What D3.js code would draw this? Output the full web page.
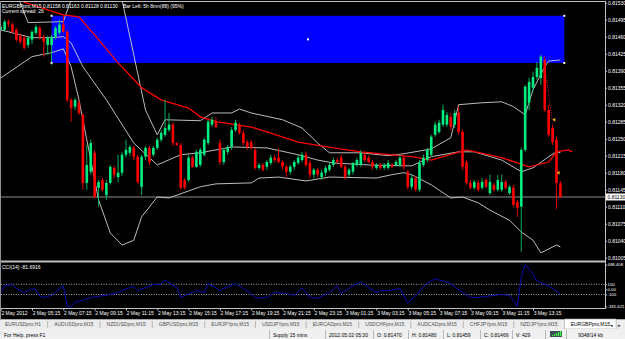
<!DOCTYPE html>
<html>
<head>
<meta charset="utf-8">
<script src="https://cdnjs.cloudflare.com/ajax/libs/d3/7.8.5/d3.min.js"></script>
<style>
html, body { margin: 0; padding: 0; background: #f0f0f0; overflow: hidden; }
svg { display: block; }
text { font-family: "Liberation Sans", Arial, sans-serif; }
</style>
</head>
<body>
<div id="chart"></div>
<script>
// EURGBPpro,M15 - bars from 2 May 03:15
var opens = [0.81474,0.81474,0.81491,0.81485,0.81474,0.81462,0.81458,0.81443,0.81454,0.81468,
0.81478,0.81460,0.81443,0.81443,0.81460,0.81468,0.81485,0.81470,0.81330,0.81316,
0.81324,0.81299,0.81159,0.81182,0.81221,0.81149,0.81165,0.81134,0.81159,0.81190,
0.81171,0.81180,0.81217,0.81221,0.81231,0.81213,0.81151,0.81213,0.81231,0.81217,
0.81231,0.81248,0.81258,0.81268,0.81279,0.81241,0.81237,0.81165,0.81165,0.81211,
0.81192,0.81196,0.81217,0.81241,0.81279,0.81285,0.81241,0.81202,0.81223,0.81233,
0.81268,0.81279,0.81262,0.81243,0.81243,0.81227,0.81190,0.81196,0.81192,0.81200,
0.81211,0.81211,0.81202,0.81192,0.81182,0.81192,0.81200,0.81206,0.81217,0.81200,
0.81176,0.81186,0.81171,0.81180,0.81186,0.81196,0.81206,0.81211,0.81192,0.81176,
0.81182,0.81196,0.81196,0.81217,0.81211,0.81202,0.81190,0.81196,0.81190,0.81190,
0.81196,0.81196,0.81196,0.81211,0.81182,0.81151,0.81169,0.81145,0.81196,0.81206,
0.81217,0.81258,0.81264,0.81279,0.81279,0.81295,0.81279,0.81303,0.81264,0.81202,
0.81159,0.81149,0.81159,0.81149,0.81165,0.81138,0.81155,0.81145,0.81145,0.81161,
0.81138,0.81149,0.81120,0.81110,0.81227,0.81324,0.81355,0.81377,0.81375,0.81412,
0.81309,0.81272,0.81248,0.81158];
var highs = [0.81485,0.81495,0.81495,0.81489,0.81478,0.81466,0.81462,0.81462,0.81474,0.81485,
0.81482,0.81464,0.81462,0.81464,0.81482,0.81495,0.81505,0.81474,0.81334,0.81334,
0.81330,0.81303,0.81237,0.81248,0.81227,0.81165,0.81169,0.81165,0.81196,0.81194,
0.81217,0.81223,0.81248,0.81237,0.81235,0.81217,0.81217,0.81235,0.81235,0.81235,
0.81252,0.81268,0.81330,0.81303,0.81283,0.81243,0.81241,0.81169,0.81217,0.81215,
0.81227,0.81231,0.81252,0.81289,0.81295,0.81293,0.81248,0.81231,0.81237,0.81274,
0.81289,0.81283,0.81268,0.81248,0.81248,0.81231,0.81200,0.81200,0.81206,0.81217,
0.81217,0.81231,0.81206,0.81196,0.81196,0.81206,0.81217,0.81223,0.81223,0.81206,
0.81190,0.81190,0.81186,0.81194,0.81200,0.81211,0.81211,0.81217,0.81196,0.81190,
0.81202,0.81211,0.81227,0.81221,0.81215,0.81206,0.81200,0.81200,0.81200,0.81206,
0.81200,0.81206,0.81217,0.81217,0.81186,0.81176,0.81173,0.81206,0.81217,0.81231,
0.81258,0.81285,0.81289,0.81320,0.81305,0.81303,0.81309,0.81316,0.81268,0.81206,
0.81165,0.81165,0.81165,0.81169,0.81169,0.81176,0.81159,0.81176,0.81176,0.81165,
0.81155,0.81155,0.81124,0.81231,0.81361,0.81375,0.81388,0.81408,0.81423,0.81419,
0.81320,0.81279,0.81254,0.81163];
var lows = [0.81468,0.81470,0.81480,0.81466,0.81449,0.81445,0.81433,0.81437,0.81445,0.81464,
0.81454,0.81419,0.81423,0.81402,0.81454,0.81464,0.81468,0.81324,0.81285,0.81309,
0.81299,0.81145,0.81145,0.81176,0.81128,0.81110,0.81141,0.81124,0.81155,0.81169,
0.81161,0.81173,0.81211,0.81215,0.81206,0.81157,0.81134,0.81206,0.81196,0.81213,
0.81227,0.81243,0.81254,0.81264,0.81235,0.81235,0.81145,0.81145,0.81161,0.81190,
0.81190,0.81192,0.81213,0.81237,0.81274,0.81272,0.81196,0.81196,0.81217,0.81227,
0.81264,0.81258,0.81237,0.81227,0.81227,0.81186,0.81186,0.81182,0.81186,0.81196,
0.81202,0.81200,0.81186,0.81171,0.81176,0.81186,0.81196,0.81202,0.81192,0.81169,
0.81169,0.81171,0.81165,0.81173,0.81182,0.81192,0.81200,0.81190,0.81165,0.81171,
0.81176,0.81192,0.81192,0.81202,0.81200,0.81186,0.81186,0.81186,0.81186,0.81186,
0.81190,0.81192,0.81192,0.81186,0.81145,0.81145,0.81141,0.81141,0.81192,0.81202,
0.81213,0.81254,0.81260,0.81274,0.81274,0.81268,0.81272,0.81258,0.81186,0.81155,
0.81145,0.81145,0.81141,0.81145,0.81149,0.81134,0.81141,0.81141,0.81141,0.81145,
0.81134,0.81110,0.81089,0.81017,0.81223,0.81309,0.81347,0.81371,0.81361,0.81305,
0.81254,0.81237,0.81105,0.81128];
var closes = [0.81480,0.81491,0.81487,0.81470,0.81454,0.81449,0.81437,0.81458,0.81470,0.81480,
0.81460,0.81449,0.81458,0.81460,0.81478,0.81485,0.81470,0.81330,0.81313,0.81330,
0.81303,0.81159,0.81196,0.81241,0.81130,0.81161,0.81145,0.81159,0.81192,0.81176,
0.81180,0.81217,0.81227,0.81233,0.81213,0.81161,0.81213,0.81231,0.81202,0.81231,
0.81248,0.81262,0.81272,0.81279,0.81241,0.81237,0.81149,0.81149,0.81211,0.81192,
0.81223,0.81227,0.81248,0.81285,0.81289,0.81274,0.81202,0.81227,0.81233,0.81268,
0.81283,0.81262,0.81241,0.81233,0.81231,0.81190,0.81196,0.81186,0.81202,0.81211,
0.81206,0.81202,0.81192,0.81182,0.81192,0.81202,0.81211,0.81217,0.81196,0.81176,
0.81186,0.81176,0.81180,0.81190,0.81196,0.81206,0.81202,0.81192,0.81171,0.81186,
0.81200,0.81206,0.81221,0.81206,0.81202,0.81192,0.81196,0.81190,0.81196,0.81200,
0.81192,0.81202,0.81211,0.81192,0.81151,0.81169,0.81145,0.81200,0.81211,0.81227,
0.81254,0.81279,0.81283,0.81309,0.81299,0.81274,0.81303,0.81264,0.81192,0.81159,
0.81149,0.81161,0.81145,0.81161,0.81151,0.81161,0.81145,0.81165,0.81161,0.81149,
0.81151,0.81114,0.81108,0.81227,0.81357,0.81367,0.81377,0.81396,0.81419,0.81309,
0.81258,0.81243,0.81159,0.81130];

// indicator lines: [bar, value]
var maLine = [[0,0.81580],[6,0.81531],[16,0.81505],[20,0.81501],[25,0.81454],[30,0.81406],[36,0.81355],
  [41,0.81330],[48,0.81313],[51,0.81295],[55,0.81285],[64,0.81274],[68,0.81264],[76,0.81243],[85,0.81231],
  [92,0.81223],[105,0.81213],[110,0.81206],[119,0.81227],[128,0.81211],[135,0.81192],[140,0.81202],
  [142,0.81223],[145,0.81227],[146,0.81223]];
var bbUpper = [[0,0.81575],[5,0.81530],[7,0.81489],[16,0.81491],[18,0.81536],[20,0.81570],[28,0.81570],
  [31,0.81536],[37,0.81309],[40,0.81258],[42,0.81289],[51,0.81287],[54,0.81303],[59,0.81303],[61,0.81311],
  [64,0.81303],[72,0.81289],[77,0.81272],[81,0.81241],[84,0.81221],[92,0.81221],[99,0.81215],[103,0.81219],
  [110,0.81229],[115,0.81252],[117,0.81320],[123,0.81324],[128,0.81326],[131,0.81316],[134,0.81299],
  [136,0.81351],[139,0.81398],[140,0.81410],[143,0.81412]];
var bbMiddle = [[0,0.81474],[8,0.81458],[13,0.81458],[16,0.81460],[18,0.81447],[21,0.81398],[27,0.81330],
  [34,0.81241],[40,0.81196],[46,0.81217],[51,0.81221],[55,0.81227],[59,0.81233],[68,0.81231],[76,0.81217],
  [81,0.81206],[85,0.81200],[94,0.81196],[105,0.81194],[110,0.81213],[117,0.81223],[121,0.81223],
  [128,0.81206],[133,0.81182],[136,0.81190],[140,0.81213],[142,0.81223],[143,0.81221]];
var bbLower = [[0,0.81375],[8,0.81419],[13,0.81427],[16,0.81435],[18,0.81398],[20,0.81330],[25,0.81124],
  [28,0.81056],[31,0.81031],[34,0.81041],[36,0.81089],[40,0.81130],[43,0.81128],[51,0.81151],[55,0.81157],
  [64,0.81159],[66,0.81169],[71,0.81171],[78,0.81163],[84,0.81171],[96,0.81169],[100,0.81176],[103,0.81180],
  [105,0.81176],[110,0.81155],[115,0.81128],[118,0.81130],[122,0.81118],[125,0.81103],[130,0.81082],
  [133,0.81058],[136,0.81041],[138,0.81015],[142,0.81031],[143,0.81027]];
var cciLine = [[0,-61],[1,72],[3,91],[4,15],[6,-61],[8,15],[9,-4],[10,-137],[11,-156],[13,-118],[15,15],
  [16,72],[17,-330],[18,-335.621],[19,-250],[21,-212],[23,-156],[25,-137],[28,-99],[30,-61],[32,15],[34,53],
  [35,-23],[37,34],[39,91],[41,110],[42,185],[43,128],[45,34],[46,-156],[47,-118],[49,-61],[50,-23],[52,-61],
  [53,110],[55,34],[56,-23],[58,53],[60,110],[62,15],[64,-80],[65,-175],[68,-156],[70,-61],[73,-80],
  [75,-118],[77,34],[78,-61],[79,-156],[81,-175],[84,-61],[86,72],[87,-80],[90,72],[92,147],[94,34],
  [96,-61],[97,-23],[99,-23],[102,15],[104,-269],[106,-118],[109,128],[111,204],[113,166],[115,110],
  [118,-61],[120,-156],[122,-156],[124,-137],[128,-99],[130,-118],[132,-330],[133,250],[134,488.408],
  [136,299],[137,166],[140,72],[141,15],[143,-81.6916]];

var priceTicks = [0.81530,0.81495,0.81460,0.81425,0.81390,0.81355,0.81320,0.81285,0.81250,0.81215,
  0.81180,0.81145,0.81110,0.81075,0.81040,0.81005];
var lastPrice = 0.81130;
var cciTicks = [488.408, 100, 0, -100, -335.621];
var cciTickLabels = ["488.408", "100", "0.00", "-100", "-335.621"];
var cciLevels = [100, -100];
var timeBars = [0,8,16,24,32,40,48,56,64,72,80,88,96,104,112,120,128,136];
var timeLabels = ["2 May 2012","2 May 05:15","2 May 07:15","2 May 09:15","2 May 11:15","2 May 13:15",
  "2 May 15:15","2 May 17:15","2 May 19:15","2 May 21:15","2 May 23:15","3 May 01:15","3 May 03:15",
  "3 May 05:15","3 May 07:15","3 May 09:15","3 May 11:15","3 May 13:15"];
var rectBars = [13, 144];
var rectPrices = [0.81503, 0.81406];
var tradeLine = [[139.3, 0.81381], [140.8, 0.81293]];
var tradeArrows = [[141.3, 0.81289], [142.4, 0.81180]];
var tabs = ["EURUSDpro,H1","AUDUSDpro,M15","NZDUSDpro,M15","GBPUSDpro,M15","EURJPYpro,M15","USDJPYpro,M15",
  "EURCADpro,M15","USDCHFpro,M15","AUDCADpro,M15","CHFJPYpro,M15","NZDJPYpro,M15","EURGBPpro,M15"];
var statusTexts = ["For Help, press F1","Supply 15 mins","2012.05.02 05:30","O: 0.81470","H: 0.81480",
  "L: 0.81459","C: 0.81469","V: 429","","9348/14 kb"];
var statusCells = [0, 269, 325, 373, 408, 443, 480, 512, 545, 566];

var W = 625, H = 339;
var svg = d3.select("#chart").append("svg").attr("width", W).attr("height", H);

svg.append("rect").attr("width", W).attr("height", 319).attr("fill", "#000");

var x = d3.scaleLinear().domain([0, 143]).range([0.7, 560.4]);
var y = d3.scaleLinear().domain([0.81005, 0.81530]).range([257.7, 2.7]);
var yc = d3.scaleLinear().domain([-335.621, 488.408]).range([306.5, 264.5]);

var defs = svg.append("defs");
defs.append("clipPath").attr("id", "clipMain").append("rect")
  .attr("x", 1).attr("y", 2).attr("width", 604).attr("height", 259);
defs.append("clipPath").attr("id", "clipCci").append("rect")
  .attr("x", 1).attr("y", 263).attr("width", 604).attr("height", 45);

var main = svg.append("g").attr("clip-path", "url(#clipMain)");

// rectangle object (drawn as background)
var rx0 = x(rectBars[0]), rx1 = x(rectBars[1]), ry0 = y(rectPrices[0]), ry1 = y(rectPrices[1]);
main.append("rect").attr("x", rx0).attr("y", ry0).attr("width", rx1 - rx0).attr("height", ry1 - ry0)
  .attr("fill", "#0000ff");

// bid line
main.append("line").attr("x1", 1).attr("x2", 605).attr("y1", y(lastPrice)).attr("y2", y(lastPrice))
  .attr("stroke", "#8c8c8c").attr("stroke-width", 1);

var line = d3.line().x(function(d) { return x(d[0]); }).y(function(d) { return y(d[1]); });

// bollinger bands
[bbUpper, bbMiddle, bbLower].forEach(function(s) {
  main.append("path").attr("d", line(s)).attr("fill", "none")
    .attr("stroke", "#d0d0d0").attr("stroke-width", 0.9);
});
main.append("path").attr("d", line(maLine)).attr("fill", "none")
  .attr("stroke", "#ff0000").attr("stroke-width", 1.3);

// candles
var idx = d3.range(closes.length);
function up(i) { return closes[i] >= opens[i]; }
main.selectAll(".wick").data(idx).enter().append("line")
  .attr("class", "wick")
  .attr("x1", function(i) { return x(i); }).attr("x2", function(i) { return x(i); })
  .attr("y1", function(i) { return y(highs[i]); }).attr("y2", function(i) { return y(lows[i]); })
  .attr("stroke", function(i) { return up(i) ? "#00b060" : "#e00000"; })
  .attr("stroke-width", 1);
main.selectAll(".body").data(idx).enter().append("rect")
  .attr("class", "body")
  .attr("x", function(i) { return x(i) - 1.3; })
  .attr("width", 2.6)
  .attr("y", function(i) { return y(Math.max(opens[i], closes[i])); })
  .attr("height", function(i) { return Math.max(0.8, Math.abs(y(opens[i]) - y(closes[i]))); })
  .attr("fill", function(i) { return up(i) ? "#00ee80" : "#ff0000"; });

// trade history line and arrows
main.append("path").attr("d", line(tradeLine)).attr("fill", "none")
  .attr("stroke", "#ff2020").attr("stroke-width", 1).attr("stroke-dasharray", "1,1.5");
main.selectAll(".arrow").data(tradeArrows).enter().append("path")
  .attr("d", function(d) { var px = x(d[0]), py = y(d[1]);
    return "M" + (px - 1.5) + "," + py + "L" + (px + 1.5) + "," + (py - 2) + "L" + (px + 1.5) + "," + (py + 2) + "Z"; })
  .attr("fill", "#ffb020");

// selection handles of the rectangle
var handles = [[rx0, ry0], [rx1, ry0], [rx0, ry1], [rx1, ry1], [(rx0 + rx1) / 2, (ry0 + ry1) / 2]];
svg.selectAll(".handle").data(handles).enter().append("rect")
  .attr("x", function(d) { return d[0] - 1; }).attr("y", function(d) { return d[1] - 1; })
  .attr("width", 2).attr("height", 2).attr("fill", "#fff");

// header texts
var hdr = svg.append("g").attr("font-size", 5).attr("fill", "#fff");
hdr.append("text").attr("x", 2).attr("y", 7.5).text("EURGBPpro,M15  0.81158 0.81163 0.81128 0.81130");
hdr.append("text").attr("x", 123).attr("y", 7.5).text("Bar Left: 5h 8mn(88) (95%)");
hdr.append("text").attr("x", 2).attr("y", 12.5).text("Current spread: 26");

// price axis
var pAxis = svg.append("g").attr("transform", "translate(605,0)")
  .call(d3.axisRight(y).tickValues(priceTicks).tickFormat(d3.format(".5f")).tickSize(2).tickPadding(1));
pAxis.select(".domain").remove();
pAxis.selectAll("line").attr("stroke", "#c8c8c8");
pAxis.selectAll("text").attr("fill", "#fff").attr("font-size", 5)
  .attr("font-family", "Liberation Sans, Arial, sans-serif");

// current price label
svg.append("rect").attr("x", 606).attr("y", y(lastPrice) - 3.5).attr("width", 19).attr("height", 7).attr("fill", "#fff");
svg.append("text").attr("x", 607.5).attr("y", y(lastPrice) + 1.8).attr("font-size", 5).attr("fill", "#000")
  .text(d3.format(".5f")(lastPrice));

// CCI window
var cg = svg.append("g").attr("clip-path", "url(#clipCci)");
cg.selectAll(".lvl").data(cciLevels).enter().append("line")
  .attr("x1", 1).attr("x2", 605).attr("y1", function(d) { return yc(d); }).attr("y2", function(d) { return yc(d); })
  .attr("stroke", "#d0d0d0").attr("stroke-width", 0.8).attr("stroke-dasharray", "1,1.5");
var cciPath = d3.line().x(function(d) { return x(d[0]); }).y(function(d) { return yc(d[1]); });
cg.append("path").attr("d", cciPath(cciLine)).attr("fill", "none")
  .attr("stroke", "#0a0ab8").attr("stroke-width", 1);
svg.append("text").attr("x", 2).attr("y", 269).attr("font-size", 5).attr("fill", "#fff").text("CCI(14) -81.6916");

var cAxis = svg.append("g").attr("transform", "translate(605,0)")
  .call(d3.axisRight(yc).tickValues(cciTicks).tickFormat(function(d, i) { return cciTickLabels[i]; })
    .tickSize(2).tickPadding(0.5));
cAxis.select(".domain").remove();
cAxis.selectAll("line").attr("stroke", "#c8c8c8");
cAxis.selectAll("text").attr("fill", "#fff").attr("font-size", 4.3)
  .attr("font-family", "Liberation Sans, Arial, sans-serif");

// frame lines
var fr = svg.append("g").attr("stroke", "#c0c0c0").attr("stroke-width", 1);
fr.append("line").attr("x1", 0).attr("x2", 606).attr("y1", 1.5).attr("y2", 1.5);
fr.append("line").attr("x1", 605.5).attr("x2", 605.5).attr("y1", 1).attr("y2", 308.5);
fr.append("line").attr("x1", 0).attr("x2", 606).attr("y1", 261.5).attr("y2", 261.5).attr("stroke-width", 2);
fr.append("line").attr("x1", 0).attr("x2", 606).attr("y1", 308.5).attr("y2", 308.5);
fr.append("line").attr("x1", 0.5).attr("x2", 0.5).attr("y1", 1).attr("y2", 319).attr("stroke", "#909090");

// time axis
var tAxis = svg.append("g").attr("transform", "translate(0,308.5)")
  .call(d3.axisBottom(x).tickValues(timeBars).tickFormat(function(d, i) { return timeLabels[i]; })
    .tickSize(2).tickPadding(1));
tAxis.select(".domain").remove();
tAxis.selectAll("line").attr("stroke", "#c8c8c8");
tAxis.selectAll("text").attr("fill", "#fff").attr("font-size", 5).attr("text-anchor", "start")
  .attr("dx", "0.2").attr("font-family", "Liberation Sans, Arial, sans-serif");

// tab bar
var tb = svg.append("g");
tb.append("rect").attr("y", 319).attr("width", W).attr("height", 10).attr("fill", "#ececec");
tb.append("line").attr("x1", 0).attr("x2", W).attr("y1", 319.5).attr("y2", 319.5).attr("stroke", "#a8a8a8");
var tx = 5;
tabs.forEach(function(t, i) {
  var active = i === tabs.length - 1;
  var txt = tb.append("text").attr("x", tx).attr("y", 326).attr("font-size", 5)
    .attr("fill", active ? "#000" : "#505050").text(t);
  var w = txt.node().getComputedTextLength();
  if (active) {
    tb.insert("rect", "text").attr("x", tx - 6).attr("y", 319).attr("width", w + 12).attr("height", 10)
      .attr("fill", "#fff").attr("stroke", "#a0a0a0").attr("stroke-width", 0.6);
  } else if (i < tabs.length - 2) {
    tb.append("line").attr("x1", tx + w + 6.5).attr("x2", tx + w + 6.5).attr("y1", 321).attr("y2", 328)
      .attr("stroke", "#a0a0a0").attr("stroke-width", 0.7);
  }
  tx += w + 13;
});
tb.append("text").attr("x", 610).attr("y", 326.5).attr("font-size", 5).attr("fill", "#303030").text("\u25C2");
tb.append("text").attr("x", 618).attr("y", 326.5).attr("font-size", 5).attr("fill", "#303030").text("\u25B8");

// status bar
var sb = svg.append("g");
sb.append("rect").attr("y", 329).attr("width", W).attr("height", 10).attr("fill", "#f0f0f0");
statusCells.forEach(function(cx, i) {
  if (i > 0) sb.append("line").attr("x1", cx + 0.5).attr("x2", cx + 0.5).attr("y1", 330).attr("y2", 339)
    .attr("stroke", "#a0a0a0").attr("stroke-width", 0.7);
  if (statusTexts[i]) sb.append("text").attr("x", i === 9 ? 603 : cx + 4).attr("y", 336.5)
    .attr("text-anchor", i === 9 ? "end" : "start").attr("font-size", 5).attr("fill", "#000").text(statusTexts[i]);
});
// connection icon
sb.append("rect").attr("x", 550).attr("y", 331).attr("width", 12).attr("height", 6).attr("fill", "#385058");
[1, 3, 5, 7, 9].forEach(function(o, k) {
  sb.append("rect").attr("x", 551 + o).attr("y", 336 - (k + 1)).attr("width", 1.2).attr("height", k + 1)
    .attr("fill", "#40ff40");
});
</script>
</body>
</html>
